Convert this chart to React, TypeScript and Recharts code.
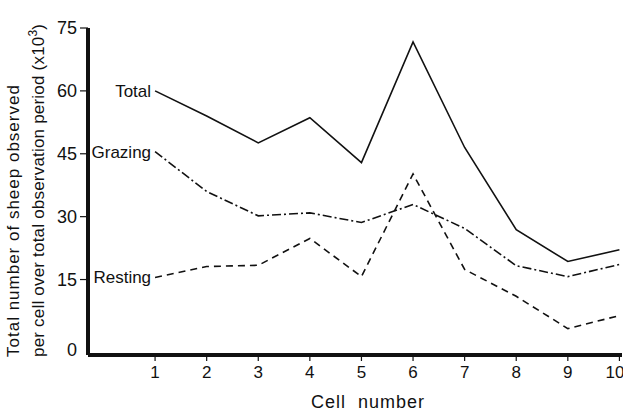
import { LineChart, Line, XAxis, YAxis, Label, LabelList } from 'recharts';

// sheep counts per cell (x10^3)
const cells = [1, 2, 3, 4, 5, 6, 7, 8, 9, 10];
const total = [60, 54, 47.6, 53.6, 42.9, 71.7, 46.5, 26.9, 19.3, 22.1];
const grazing = [45.5, 36, 30.2, 30.9, 28.6, 32.9, 27.2, 18.3, 15.7, 18.6];
const resting = [15.5, 18.1, 18.4, 24.8, 15.7, 40.2, 17.4, 11, 3.3, 6.4];
const yTicks = [0, 15, 30, 45, 60, 75];

const data = cells.map((c, i) => ({
  cell: c,
  total: total[i],
  grazing: grazing[i],
  resting: resting[i],
}));

const FONT = '"Liberation Sans", Arial, sans-serif';
const INK = '#111';

const YTick = (props: any) => {
  const { x, y, payload } = props;
  const v = payload.value;
  return (
    <g>
      {v !== 0 && <line x1={x + 3} x2={x + 11} y1={y} y2={y} stroke={INK} strokeWidth={1.2} />}
      <text x={x} y={v === 0 ? y + 8 : y} dy={6} textAnchor="end" fontSize={18} fontFamily={FONT} fill={INK}>
        {v}
      </text>
    </g>
  );
};

const XTick = (props: any) => {
  const { x, y, payload } = props;
  return (
    <text x={x} y={y} dy={15} textAnchor="middle" fontSize={17} fontFamily={FONT} fill={INK}>
      {payload.value}
    </text>
  );
};

const seriesLabel = (name: string) => (props: any) => {
  const { x, y, index } = props;
  if (index !== 0) return null;
  return (
    <text x={x - 4} y={y} dy={6} textAnchor="end" fontSize={17} fontFamily={FONT} fill={INK}>
      {name}
    </text>
  );
};

const yTitle = () => (
  <g fontFamily={FONT} fontSize={17} fill={INK}>
    <text transform="rotate(-90)" x={-357} y={19} textAnchor="start" letterSpacing={1}>
      Total number of sheep observed
    </text>
    <text transform="rotate(-90)" x={-357} y={44} textAnchor="start" letterSpacing={0.2}>
      per cell over total observation period (x10
      <tspan dy={-7} fontSize={12}>3</tspan>
      <tspan dy={7}>)</tspan>
    </text>
  </g>
);

const xTitle = () => (
  <text x={368} y={408} textAnchor="middle" fontSize={18} fontFamily={FONT} fill={INK} letterSpacing={1} wordSpacing={6}>
    Cell number
  </text>
);

export default function App() {
  return (
    <div style={{ position: 'absolute', left: 0, top: 0, background: '#fff' }}>
      <LineChart width={623} height={415} data={data} margin={{ top: 28, right: 1, bottom: 30, left: 0 }}>
        <XAxis
          dataKey="cell"
          type="number"
          domain={[-0.3, 10.05]}
          ticks={cells}
          allowDataOverflow
          axisLine={{ stroke: INK, strokeWidth: 4 }}
          tickLine={{ stroke: INK, strokeWidth: 1.2 }}
          tickSize={6}
          tick={<XTick />}
          height={30}
        >
          <Label content={xTitle} />
        </XAxis>
        <YAxis
          type="number"
          domain={[-3, 75]}
          ticks={yTicks}
          allowDataOverflow
          width={88}
          axisLine={{ stroke: INK, strokeWidth: 4 }}
          tickLine={false}
          tickSize={8}
          tickMargin={3}
          tick={<YTick />}
        >
          <Label content={yTitle} />
        </YAxis>
        <Line dataKey="total" stroke={INK} strokeWidth={1.6} dot={false} isAnimationActive={false}>
          <LabelList content={seriesLabel('Total')} />
        </Line>
        <Line dataKey="grazing" stroke={INK} strokeWidth={1.6} strokeDasharray="9 3 2 3" dot={false} isAnimationActive={false}>
          <LabelList content={seriesLabel('Grazing')} />
        </Line>
        <Line dataKey="resting" stroke={INK} strokeWidth={1.6} strokeDasharray="7 5" dot={false} isAnimationActive={false}>
          <LabelList content={seriesLabel('Resting')} />
        </Line>
      </LineChart>
    </div>
  );
}
